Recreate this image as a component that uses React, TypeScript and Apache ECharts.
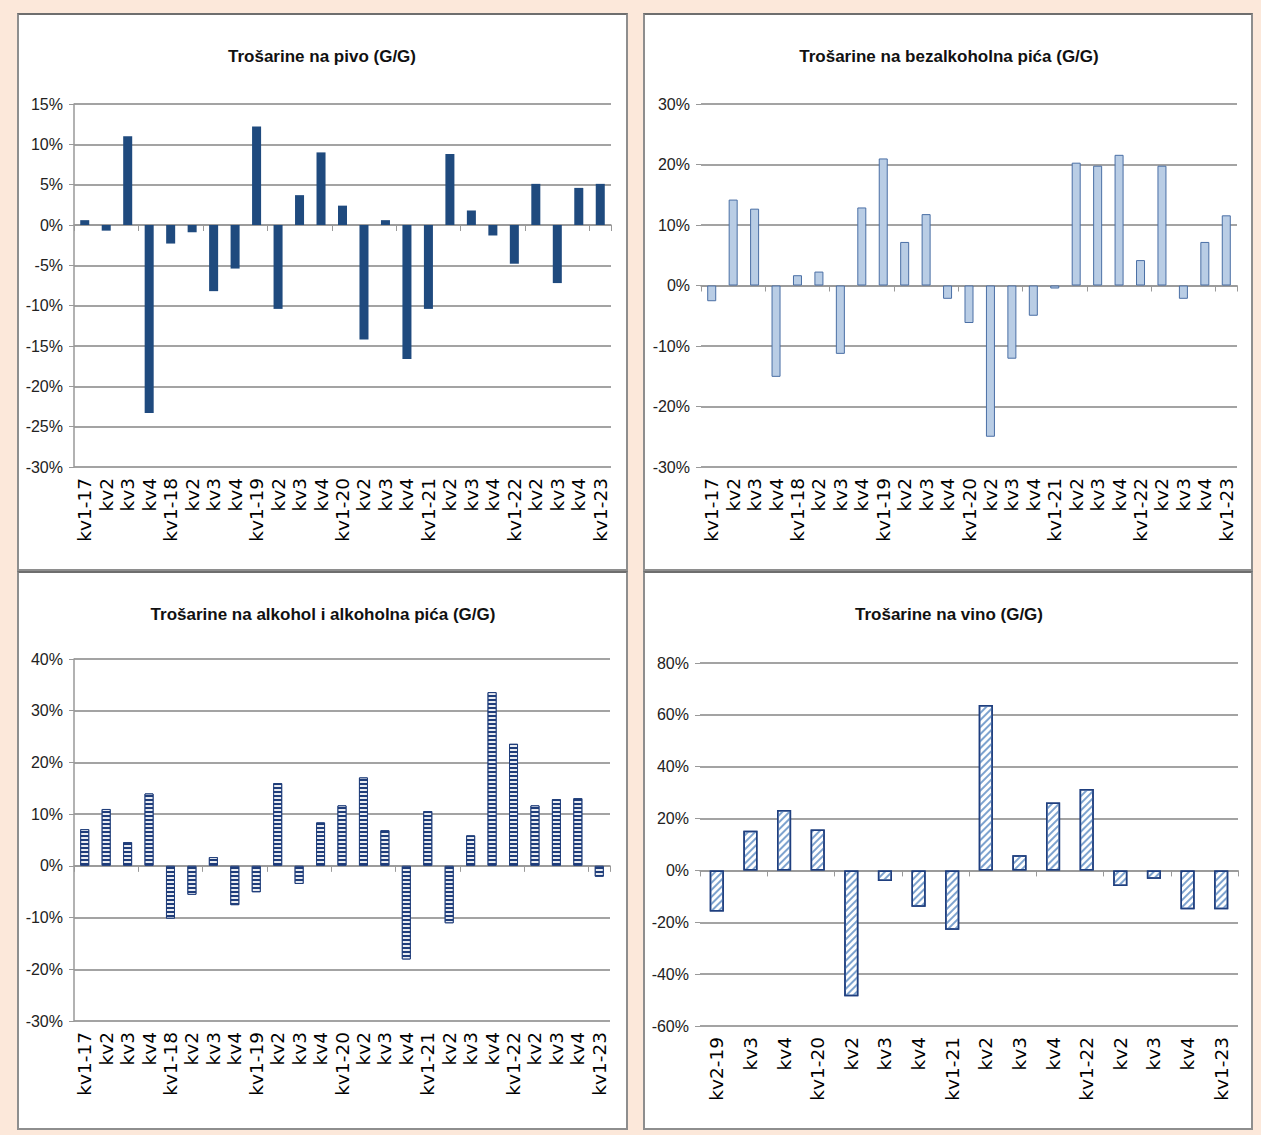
import React, { useEffect, useRef } from "react";
import * as echarts from "echarts";

const quarters = [
  "kv1-17", "kv2", "kv3", "kv4",
  "kv1-18", "kv2", "kv3", "kv4",
  "kv1-19", "kv2", "kv3", "kv4",
  "kv1-20", "kv2", "kv3", "kv4",
  "kv1-21", "kv2", "kv3", "kv4",
  "kv1-22", "kv2", "kv3", "kv4",
  "kv1-23",
];
const wineQuarters = [
  "kv2-19", "kv3", "kv4",
  "kv1-20", "kv2", "kv3", "kv4",
  "kv1-21", "kv2", "kv3", "kv4",
  "kv1-22", "kv2", "kv3", "kv4",
  "kv1-23",
];

const beer = [0.6, -0.7, 11.0, -23.3, -2.3, -0.9, -8.2, -5.4, 12.2, -10.4, 3.7, 9.0, 2.4, -14.2, 0.6, -16.6, -10.4, 8.8, 1.8, -1.3, -4.8, 5.1, -7.2, 4.6, 5.1];
const softDrinks = [-2.6, 14.2, 12.7, -15.1, 1.7, 2.3, -11.3, 12.9, 21.0, 7.2, 11.8, -2.2, -6.2, -25.0, -12.1, -5.0, -0.5, 20.3, 19.8, 21.6, 4.2, 19.8, -2.2, 7.2, 11.6];
const spirits = [7.1, 11.0, 4.6, 14.0, -10.2, -5.6, 1.7, -7.6, -5.1, 16.0, -3.5, 8.4, 11.7, 17.1, 6.9, -18.1, 10.6, -11.1, 5.9, 33.6, 23.6, 11.7, 12.9, 13.1, -2.1];
const wine = [-15.8, 15.3, 23.3, 15.8, -48.5, -4.1, -14.0, -22.9, 63.8, 5.9, 26.2, 31.4, -6.0, -3.2, -15.0, -15.0];

const titles = [
  "Trošarine na pivo (G/G)",
  "Trošarine na bezalkoholna pića (G/G)",
  "Trošarine na alkohol i alkoholna pića (G/G)",
  "Trošarine na vino (G/G)",
];

const BORDER = 2;
const GRID_COLOR = "#a3a3a3";
const SANS = '"Liberation Sans", Arial, sans-serif';

type Box = { x: number; y: number; w: number; h: number };
type Plot = { l: number; r: number; t: number; b: number };

type PanelProps = {
  box: Box;
  plot: Plot;
  title: string;
  titleX: number;
  titleY: number;
  cats: string[];
  data: number[];
  min: number;
  max: number;
  interval: number;
  showYLine: boolean;
  itemStyle: any;
};

function Panel(p: PanelProps) {
  const ref = useRef<HTMLDivElement>(null);
  const ox = p.box.x + BORDER;
  const oy = p.box.y + BORDER;
  const cw = p.box.w - 2 * BORDER;
  const ch = p.box.h - 2 * BORDER;

  useEffect(() => {
    if (!ref.current) return;
    const chart = echarts.init(ref.current, null, { renderer: "svg" });
    chart.setOption({
      animation: false,
      graphic: [
        {
          type: "text",
          x: p.titleX - ox,
          y: p.titleY - oy,
          style: {
            text: p.title,
            font: `bold 17px ${SANS}`,
            fill: "#111",
            align: "center",
            verticalAlign: "middle",
          },
        },
      ],
      grid: {
        left: p.plot.l - ox,
        top: p.plot.t - oy,
        width: p.plot.r - p.plot.l,
        height: p.plot.b - p.plot.t,
        containLabel: false,
      },
      xAxis: [
        {
          type: "category",
          data: p.cats,
          position: "bottom",
          axisLine: { onZero: true, lineStyle: { color: "#999", width: 1.5 } },
          axisTick: { show: true, length: 6, lineStyle: { color: "#999", width: 1 } },
          axisLabel: { show: false },
          splitLine: { show: false },
        },
        {
          type: "category",
          data: p.cats,
          position: "bottom",
          axisLine: { show: false, onZero: false },
          axisTick: { show: false },
          splitLine: { show: false },
          axisLabel: {
            rotate: 90,
            interval: 0,
            fontSize: 18.5,
            fontFamily: '"DejaVu Sans", sans-serif',
            color: "#000",
            margin: 11,
          },
        },
      ],
      yAxis: {
        type: "value",
        min: p.min,
        max: p.max,
        interval: p.interval,
        axisLine: { show: p.showYLine, lineStyle: { color: "#999", width: 1.5 } },
        axisTick: { show: true, length: 5, lineStyle: { color: "#999" } },
        splitLine: { lineStyle: { color: GRID_COLOR, width: 2 } },
        axisLabel: {
          formatter: "{value}%",
          fontSize: 16,
          fontFamily: SANS,
          color: "#222",
          margin: 11,
        },
      },
      series: [
        {
          type: "bar",
          xAxisIndex: 0,
          data: p.data,
          barWidth: "42%",
          itemStyle: p.itemStyle,
        },
      ],
    });
    return () => chart.dispose();
  }, []);

  return (
    <div
      style={{
        position: "absolute",
        left: p.box.x,
        top: p.box.y,
        width: p.box.w,
        height: p.box.h,
        boxSizing: "border-box",
        border: `${BORDER}px solid #8e8e8e`,
        borderTopColor: "#6e6e6e",
        background: "#fff",
      }}
    >
      <div ref={ref} style={{ position: "absolute", left: 0, top: 0, width: cw, height: ch }} />
    </div>
  );
}

export default function App() {
  return (
    <div
      style={{
        position: "absolute",
        left: 0,
        top: 0,
        width: 1261,
        height: 1135,
        background: "#fce8da",
        overflow: "hidden",
      }}
    >
      <Panel
        box={{ x: 17, y: 13, w: 611, h: 558 }}
        plot={{ l: 74, r: 611, t: 104, b: 467 }}
        title={titles[0]}
        titleX={322}
        titleY={56}
        cats={quarters}
        data={beer}
        min={-30}
        max={15}
        interval={5}
        showYLine={true}
        itemStyle={{ color: "#1f4a7e" }}
      />
      <Panel
        box={{ x: 643, y: 13, w: 610, h: 558 }}
        plot={{ l: 701, r: 1237, t: 104, b: 467 }}
        title={titles[1]}
        titleX={949}
        titleY={56}
        cats={quarters}
        data={softDrinks}
        min={-30}
        max={30}
        interval={10}
        showYLine={false}
        itemStyle={{ color: "#b9cde5", borderColor: "#4a6fa5", borderWidth: 1 }}
      />
      <Panel
        box={{ x: 17, y: 571, w: 611, h: 559 }}
        plot={{ l: 74, r: 610, t: 659, b: 1021 }}
        title={titles[2]}
        titleX={323}
        titleY={614}
        cats={quarters}
        data={spirits}
        min={-30}
        max={40}
        interval={10}
        showYLine={true}
        itemStyle={{
          color: "#1f3d7a",
          borderColor: "#1f3d7a",
          borderWidth: 1,
          decal: {
            symbol: "rect",
            symbolSize: 1,
            color: "rgba(255,255,255,0.9)",
            dashArrayX: [1, 0],
            dashArrayY: [2, 2],
            rotation: 0,
          },
        }}
      />
      <Panel
        box={{ x: 643, y: 571, w: 610, h: 559 }}
        plot={{ l: 700, r: 1238, t: 663, b: 1026 }}
        title={titles[3]}
        titleX={949}
        titleY={614}
        cats={wineQuarters}
        data={wine}
        min={-60}
        max={80}
        interval={20}
        showYLine={false}
        itemStyle={{
          color: "#ffffff",
          borderColor: "#1f3f7f",
          borderWidth: 1.5,
          decal: {
            symbol: "rect",
            symbolSize: 1,
            color: "#7ea3cf",
            dashArrayX: [1, 0],
            dashArrayY: [1.5, 3],
            rotation: -Math.PI / 4,
          },
        }}
      />
    </div>
  );
}
